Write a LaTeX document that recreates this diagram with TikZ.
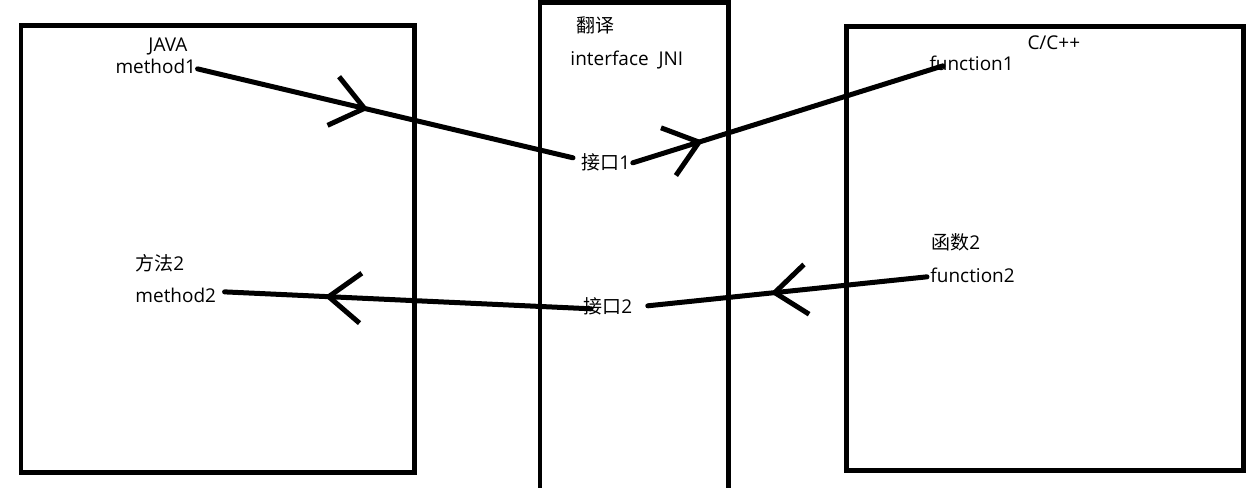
\documentclass[tikz,border=0pt]{standalone}
\usepackage{fontspec}
\setmainfont{Open Sans}
\newfontfamily\cjk{Noto Sans CJK SC}
\usetikzlibrary{arrows.meta, calc, decorations.markings}

\begin{document}
\begin{tikzpicture}[x=0.1mm, y=-0.1mm, line width=0.5mm,
    lbl/.style={font=\fontsize{5.4}{6.5}\selectfont, inner sep=0pt, anchor=base west},
    link/.style={line cap=round, postaction={decorate},
      decoration={markings, mark=at position #1 with {\arrow{Straight Barb[length=3.2mm, width=5mm]}}}}]
            \useasboundingbox (0,0) rectangle (1256,488);
            \draw (21,26) rectangle (415,473);
            \draw (540,500) -- (540,3) -- (729,3) -- (729,500);
            \draw (847,27) rectangle (1244,471);
            \node[lbl] (java) at (146,52)  {JAVA};
            \node[lbl] (m1)   at (113,74)  {method1};
            \node[lbl] (ff2)  at (133,271) {{\cjk 方法}2};
            \node[lbl] (m2)   at (133,303) {method2};
            \node[lbl] (fy)   at (574,33)  {\cjk 翻译};
            \node[lbl] (jni)  at (568,66)  {interface\ \ JNI};
            \node[lbl] (j1)   at (579,170) {{\cjk 接口}1};
            \node[lbl] (j2)   at (581,314) {{\cjk 接口}2};
            \node[lbl] (cpp)  at (1025,50) {C/C++};
            \node[lbl] (f1)   at (927,71)  {function1};
            \node[lbl] (hs2)  at (929,250) {{\cjk 函数}2};
            \node[lbl] (f2)   at (928,283) {function2};
            \draw[link=0.455] ($(m1.east)+(-1,2)$) -- ($(j1.west)+(-6,-5)$);
            \draw[link=0.226] ($(j1.east)+(0,0)$) -- ($(f1.west)+(16,2)$);
            \draw[link=0.56]  ($(f2.west)+(-1,1)$) -- ($(j2.east)+(13,-1)$);
            \draw[link=0.727] ($(j2.west)+(10,2)$) -- ($(m2.east)+(6,-4)$);
        \end{tikzpicture}
\end{document}
